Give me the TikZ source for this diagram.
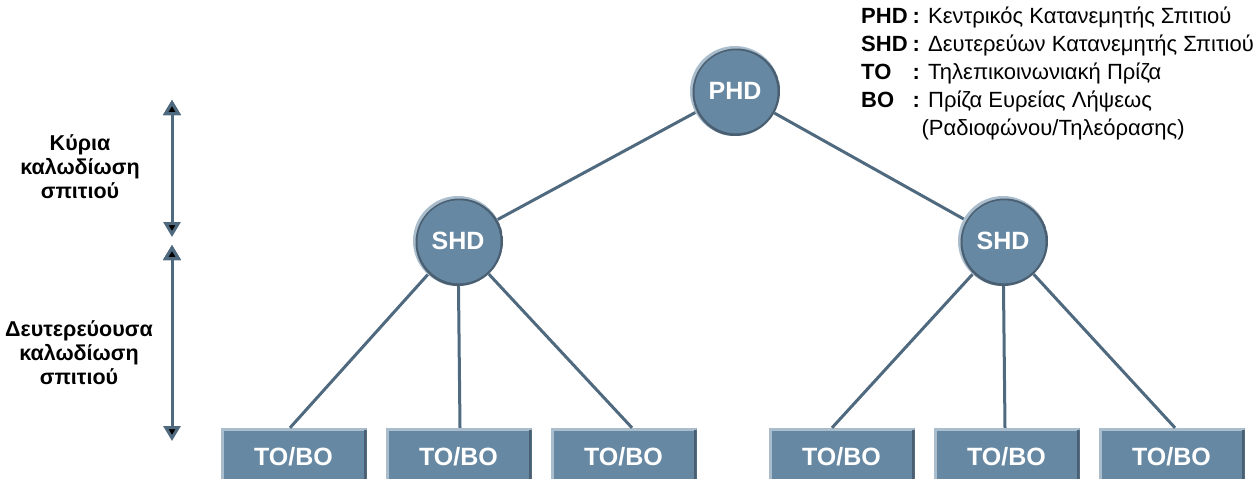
\documentclass[tikz,border=0pt]{standalone}
\usepackage{fontspec}
\setmainfont{Liberation Sans}
\usepackage{tikz}
\usetikzlibrary{arrows.meta,positioning}
\definecolor{nodeblue}{HTML}{6688A2}
\definecolor{rimlight}{HTML}{A9BDCD}
\definecolor{rimdark}{HTML}{4A5F71}
\definecolor{wireblue}{HTML}{4F697F}
\tikzset{
 >={Triangle[width=17pt,length=15pt]},
 hub/.style={circle,minimum size=90pt,inner sep=0pt,fill=rimlight,text=white,
  font=\fontsize{25}{25}\selectfont\bfseries,
  path picture={
   \fill[rimdark] ([shift={(1.5pt,-1.5pt)}]path picture bounding box.center) circle (44pt);
   \fill[nodeblue] ([shift={(1pt,-0.8pt)}]path picture bounding box.center) circle (41.5pt);
  }},
 outlet/.style={rectangle,minimum width=146pt,minimum height=51pt,inner sep=0pt,
  text height=25pt,text depth=2pt,
  fill=nodeblue,text=white,font=\fontsize{25}{25}\selectfont\bfseries,
  path picture={
   \fill[rimlight] (path picture bounding box.south west) rectangle ([xshift=3pt]path picture bounding box.north west);
   \fill[rimlight] ([yshift=-3pt]path picture bounding box.north west) rectangle (path picture bounding box.north east);
   \fill[rimdark] ([xshift=-3pt]path picture bounding box.south east) rectangle ([yshift=-2pt]path picture bounding box.north east);
  }},
 wire/.style={draw=wireblue,line width=3pt},
 span/.style={<->,draw=wireblue,line width=3pt},
 tag/.style={align=center,font=\fontsize{21.5}{24}\selectfont\bfseries}
}

\begin{document}
\begin{tikzpicture}[x=1pt,y=-1pt]
\useasboundingbox (0,0) rectangle (1256,480);

% hubs
\path (735,91) node[hub,name=phd] {PHD};
\path (458,241) node[hub,name=shd1] {SHD};
\path (1003,241) node[hub,name=shd2] {SHD};

% outlets
\path (293.5,453.5) node[outlet,name=to1] {TO/BO};
\path (458.5,453.5) node[outlet,name=to2] {TO/BO};
\path (623.5,453.5) node[outlet,name=to3] {TO/BO};
\path (841.5,453.5) node[outlet,name=to4] {TO/BO};
\path (1006.5,453.5) node[outlet,name=to5] {TO/BO};
\path (1171.5,453.5) node[outlet,name=to6] {TO/BO};

\path[wire] (phd) edge (shd1);
\path[wire] (phd) edge (shd2);

\path[wire] (shd1) edge ([xshift=-3.5pt]to1.north);
\path[wire] (shd1) edge ([xshift=1.5pt]to2.north);
\path[wire] (shd1) edge ([xshift=8.5pt]to3.north);
\path[wire] (shd2) edge ([xshift=-9.5pt]to4.north);
\path[wire] (shd2) edge ([xshift=-1.5pt]to5.north);
\path[wire] (shd2) edge ([xshift=3.5pt]to6.north);

% extent arrows
\coordinate (up1) at (172,100);
\coordinate (dn1) at (172,237);
\coordinate (up2) at (172,245);
\coordinate (dn2) at (172,441);
\path[span] (up1) edge (dn1);
\path[span] (up2) edge (dn2);

\path (80,167) node[tag,name=main] {Κύρια\\καλωδίωση\\σπιτιού};
\path (79,353) node[tag,name=second] {Δευτερεύουσα\\καλωδίωση\\σπιτιού};

% legend
\path (861,4) node[anchor=north west,inner sep=0pt,name=legend,
  font=\fontsize{22}{28}\selectfont] {%
  \begin{tabular}{@{}l@{\hspace{5pt}}l@{}}
  \textbf{PHD} & \textbf{:} Κεντρικός Κατανεμητής Σπιτιού\\
  \textbf{SHD} & \textbf{:} Δευτερεύων Κατανεμητής Σπιτιού\\
  \textbf{TO} & \textbf{:} Τηλεπικοινωνιακή Πρίζα\\
  \textbf{BO} & \textbf{:} Πρίζα Ευρείας Λήψεως\\
  & \hspace{9pt}(Ραδιοφώνου/Τηλεόρασης)
  \end{tabular}};

\end{tikzpicture}
\end{document}
